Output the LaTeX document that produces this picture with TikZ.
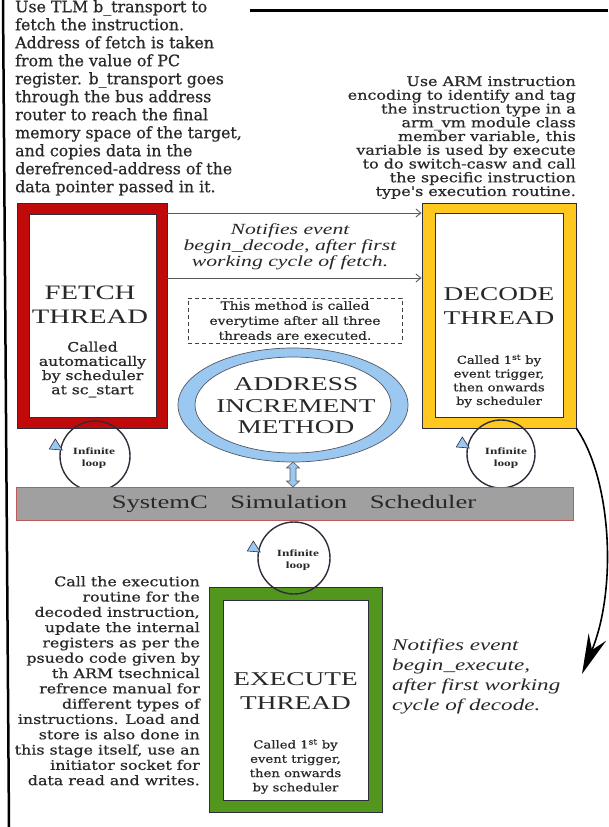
\documentclass[tikz,border=0pt]{standalone}
\usepackage{fontspec}
\setmainfont[FakeBold=0.6]{DejaVu Serif}
\newfontfamily\widefont[FakeStretch=1.2,FakeBold=0.6]{DejaVu Serif}
\newfontfamily\titlefont[FakeStretch=1.4]{Liberation Serif}
\usetikzlibrary{shapes.geometric,arrows.meta}
\definecolor{fetchred}{RGB}{192,10,10}
\definecolor{decyellow}{RGB}{255,200,30}
\definecolor{exegreen}{RGB}{82,150,30}
\definecolor{ringblue}{RGB}{155,200,240}
\definecolor{bargray}{RGB}{160,160,160}
\definecolor{barborder}{RGB}{190,90,90}
\definecolor{ink}{RGB}{40,40,40}
\definecolor{edgec}{RGB}{45,45,60}
\begin{document}
\begin{tikzpicture}[x=1pt,y=-1pt,
  frame/.style={draw=edgec, line width=0.8pt, rectangle, inner sep=0pt},
  loopc/.style={draw=edgec, line width=1.4pt, circle, minimum size=70pt, inner sep=0pt},
  looptext/.style={font=\titlefont\bfseries\fontsize{9.5}{12}\selectfont, align=center, text=ink, inner sep=0pt},
  titletext/.style={font=\titlefont\fontsize{19.5}{24}\selectfont, align=center, text=ink, inner sep=0pt},
  smalltext/.style={font=\widefont\fontsize{11}{14}\selectfont, align=center, text=ink, inner sep=0pt},
  bodytext/.style={text=ink, inner sep=0pt},
  notetext/.style={font=\titlefont\itshape\fontsize{15.5}{16}\selectfont, text=ink, inner sep=0pt},
  arrowhd/.style={fill=ringblue, draw=edgec, line width=0.6pt},
  thinarrow/.style={draw=black!65, line width=0.9pt, -{Straight Barb[length=5pt,width=8pt]}}
]
\useasboundingbox (0,0) rectangle (608,827);
\fill[white] (0,0) rectangle (608,827);

% page borders
\draw[line width=2.5pt] (3,0) -- (9,827);
\draw[line width=3pt] (250,10) -- (608,10);

% fetch description
\node[bodytext, anchor=north west, align=left, font=\fontsize{15.8}{18}\selectfont] (fetchdesc) at (15,0)
 {Use TLM b\_transport to\\fetch the instruction.\\Address of fetch is taken\\from the value of PC\\register. b\_transport goes\\through the bus address\\router to reach the final\\memory space of the target,\\and copies data in the\\derefrenced-address of the\\data pointer passed in it.};

% decode description
\node[bodytext, anchor=north east, align=right, font=\widefont\fontsize{13.3}{13.75}\selectfont] (decdesc) at (576,76)
 {Use ARM instruction\\encoding to identify and tag\\the instruction type in a\\arm\_vm module class\\member variable, this\\variable is used by execute\\to do switch-casw and call\\the specific instruction\\type's execution routine.};

% fetch box
\node[frame, fill=fetchred, minimum width=150pt, minimum height=225pt] (fetch) at (92,315.5) {};
\node[frame, fill=white, minimum width=127pt, minimum height=203pt] (fetchin) at (92.5,315.5) {};
\node[titletext, font=\titlefont\fontsize{20.5}{24}\selectfont] (fetchtitle) at (90,305) {FETCH\\THREAD};
\node[smalltext, font=\widefont\fontsize{13}{14.2}\selectfont] (fetchcall) at (92.5,369.5) {Called\\automatically\\by scheduler\\at sc\_start};

% decode box
\node[frame, fill=decyellow, minimum width=154pt, minimum height=225pt] (decode) at (499,315.5) {};
\node[frame, fill=white, minimum width=128pt, minimum height=204pt] (decodein) at (499,315) {};
\node[titletext] (dectitle) at (499,306) {DECODE\\THREAD};
\node[smalltext, font=\widefont\fontsize{11}{13.7}\selectfont] (deccall) at (499,381) {Called 1\textsuperscript{st} by\\event trigger,\\then onwards\\by scheduler};

% arrows fetch -> decode
\coordinate (arrA) at (0,213);
\coordinate (arrB) at (0,278);
\draw[thinarrow] (fetch.east |- arrA) -- (decode.west |- arrA);
\draw[thinarrow] (fetch.east |- arrB) -- (decode.west |- arrB);
\node[notetext, align=center] (notedec) at (290,247) {Notifies event\\begin\_decode, after first\\working cycle of fetch.};

% dashed note
\node[draw=black!75, dash pattern=on 4pt off 3pt, line width=0.9pt, rectangle, minimum width=214pt, minimum height=45pt, inner sep=0pt,
  font=\widefont\fontsize{11.5}{15}\selectfont, align=center, text=ink] (methodnote) at (295,320.5)
  {This method is called\\everytime after all three\\threads are executed.};

% address increment ellipse
\fill[ringblue, even odd rule] (293,405) ellipse [x radius=115pt, y radius=57pt] (293,405) ellipse [x radius=98pt, y radius=48pt];
\draw[edgec!80, line width=0.7pt] (293,405) ellipse [x radius=115pt, y radius=57pt];
\draw[edgec!80, line width=0.7pt] (293,405) ellipse [x radius=98pt, y radius=48pt];
\node[ellipse, minimum width=230pt, minimum height=114pt, inner sep=0pt] (aim) at (293,405) {};
\node[titletext, font=\titlefont\fontsize{19.5}{21.5}\selectfont] (aimtext) at (296,406) {ADDRESS\\INCREMENT\\METHOD};

% execute box
\node[frame, fill=exegreen, minimum width=173pt, minimum height=225pt] (execute) at (295.5,699.5) {};
\node[frame, fill=white, minimum width=145pt, minimum height=200pt] (executein) at (295.5,700) {};
\node[titletext] (exetitle) at (295.5,691) {EXECUTE\\THREAD};
\node[smalltext, font=\widefont\fontsize{11}{14.3}\selectfont] (execall) at (295.5,766.5) {Called 1\textsuperscript{st} by\\event trigger,\\then onwards\\by scheduler};

% execute description
\node[bodytext, anchor=north east, align=right, font=\widefont\fontsize{13.2}{15.3}\selectfont] (exedesc) at (200,576)
 {Call the execution\\routine for the\\decoded instruction,\\update the internal\\registers as per the\\psuedo code given by\\th ARM tsechnical\\refrence manual for\\different types of\\instructions. Load and\\store is also done in\\this stage itself, use an\\initiator socket for\\data read and writes.};

% infinite loops
\node[loopc] (loopF) at (95,456) {};
\node[loopc, minimum size=68pt] (loopD) at (501,454) {};
\node[loopc, minimum size=72pt] (loopE) at (294,558) {};
\filldraw[arrowhd] (loopF.west) ++(-4,-17) -- ++(-6,10) -- ++(13,1) -- cycle;
\filldraw[arrowhd] (loopD.west) ++(-4,-17) -- ++(-6,10) -- ++(13,1) -- cycle;
\filldraw[arrowhd] (loopE.west) ++(-4,-17) -- ++(-6,10) -- ++(13,1) -- cycle;
\node[looptext] (loopFt) at (94,458) {Infinite\\loop};
\node[looptext] (loopDt) at (506,458) {Infinite\\loop};
\node[looptext] (loopEt) at (298,560) {Infinite\\loop};

% scheduler bar
\node[draw=barborder, fill=bargray, line width=0.8pt, rectangle, minimum width=557pt, minimum height=33pt, inner sep=0pt] (bar) at (294.5,503.5) {};
\node[titletext, font=\titlefont\fontsize{19}{22}\selectfont] (bartext) at (294,504) {SystemC\hspace{16pt} Simulation\hspace{16pt} Scheduler};

% double arrow between method and scheduler
\filldraw[fill=ringblue, draw=edgec!80, line width=0.6pt]
  (293,462) -- (299.5,468) -- (296,468) -- (296,481) -- (299.5,481) -- (293,487)
  -- (286.5,481) -- (290,481) -- (290,468) -- (286.5,468) -- cycle;

% decode -> execute notification
\coordinate (curveEnd) at (582,674);
\draw[line width=1.6pt, -{Stealth[length=40pt,width=19pt,inset=14pt]}] (decode.south east) .. controls (612,480) and (617,590) .. (curveEnd);
\node[notetext, anchor=north west, align=left, font=\titlefont\itshape\fontsize{16.5}{19.8}\selectfont] (noteexe) at (392,639)
 {Notifies event\\begin\_execute,\\after first working\\cycle of decode.};
\end{tikzpicture}
\end{document}
